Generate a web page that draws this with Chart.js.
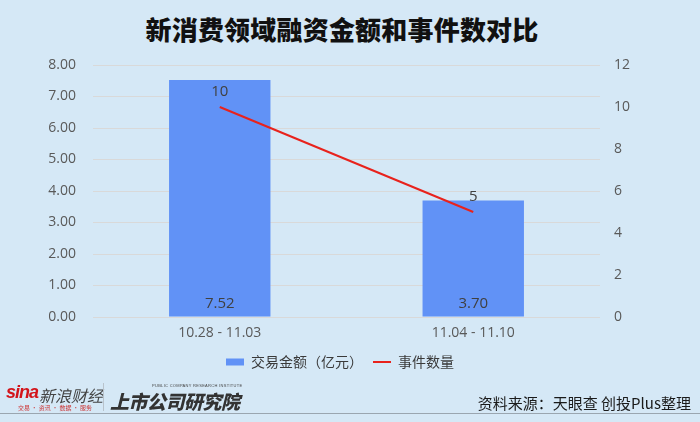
<!DOCTYPE html>
<html>
<head>
<meta charset="utf-8">
<script src="https://cdn.jsdelivr.net/npm/chart.js@4"></script>
<style>
  html, body { margin: 0; padding: 0; }
  body { width: 700px; height: 422px; background: #d5e8f6; position: relative; overflow: hidden; font-family: "Noto Sans CJK SC", sans-serif; }
  #chart { position: absolute; left: 0; top: 0; }
  .title { position: absolute; left: 0; width: 684px; top: 10px; text-align: center; font-size: 26px; font-weight: 900; color: #111; letter-spacing: 0.2px; }
  .source { position: absolute; right: 9px; top: 392px; font-size: 15px; color: #1a1a1a; }
  .divider { position: absolute; left: 0; top: 413px; width: 700px; height: 1px; background: #9aa6b0; }
  .sina { position: absolute; left: 6px; top: 382px; font-family: "Liberation Sans", sans-serif; font-style: italic; font-weight: bold; font-size: 18px; color: #d3141b; letter-spacing: -1px; }
  .sina-cn { position: absolute; left: 39px; top: 383px; font-size: 16px; color: #444; font-style: italic; }
  .sina-sub { position: absolute; left: 18px; top: 403px; font-size: 6px; color: #c33; }
  .vline { position: absolute; left: 103px; top: 383px; width: 1px; height: 28px; background: #b9c3cc; }
  .inst { position: absolute; left: 110px; top: 387px; font-size: 19px; font-weight: 900; font-style: italic; color: #333; letter-spacing: -0.5px; }
  .inst-en { position: absolute; left: 152px; top: 383px; font-family: "Liberation Sans", sans-serif; font-size: 4px; color: #444; letter-spacing: 0.3px; }
</style>
</head>
<body>
<div class="title">新消费领域融资金额和事件数对比</div>
<canvas id="chart" width="700" height="422"></canvas>
<div class="sina">sina</div>
<div class="sina-cn">新浪财经</div>
<div class="sina-sub">交易 · 资讯 · 数据 · 服务</div>
<div class="vline"></div>
<div class="inst-en">PUBLIC COMPANY RESEARCH INSTITUTE</div>
<div class="inst">上市公司研究院</div>
<div class="source">资料来源：天眼查 创投Plus整理</div>
<div class="divider"></div>
<script>
const categories = ['10.28 - 11.03', '11.04 - 11.10'];
const amounts = [7.52, 3.70];      // 交易金额（亿元）
const eventCounts = [10, 5];       // 事件数量
const leftMax = 8;
const rightMax = 12;

const tickColor = '#595959';
const labelColor = '#404040';

// value labels: amounts near the bar bottom, counts above the line points
const valueLabels = {
    id: 'valueLabels',
    afterDatasetsDraw(chart) {
        const ctx = chart.ctx;
        ctx.save();
        ctx.fillStyle = labelColor;
        ctx.font = '15px "Open Sans", sans-serif';
        ctx.textAlign = 'center';
        ctx.textBaseline = 'middle';
        const yScale = chart.scales.y;
        chart.getDatasetMeta(0).data.forEach((el, i) => {
            ctx.fillText(amounts[i].toFixed(2), el.x, yScale.getPixelForValue(0) - 13);
        });
        chart.getDatasetMeta(1).data.forEach((el, i) => {
            ctx.fillText(String(eventCounts[i]), el.x, el.y - 15);
        });
        ctx.restore();
    }
};

const tickFont = { family: '"Open Sans", sans-serif', size: 14 };

new Chart(document.getElementById('chart'), {
    data: {
        labels: categories,
        datasets: [
            {
                type: 'bar',
                label: '交易金额（亿元）',
                data: amounts,
                backgroundColor: '#6192f6',
                yAxisID: 'y',
                barPercentage: 0.4,
                categoryPercentage: 1,
                order: 2
            },
            {
                type: 'line',
                label: '事件数量',
                data: eventCounts,
                borderColor: '#e8221c',
                borderWidth: 2,
                pointRadius: 0,
                tension: 0,
                yAxisID: 'y1',
                order: 1
            }
        ]
    },
    options: {
        responsive: false,
        animation: false,
        layout: { padding: { top: 65, bottom: 43, left: 0, right: 20 } },
        scales: {
            x: {
                grid: { display: false },
                border: { display: false },
                ticks: { color: tickColor, font: tickFont, padding: 0 },
                afterFit: (s) => { s.height = 28; }
            },
            y: {
                position: 'left',
                min: 0,
                max: leftMax,
                ticks: { stepSize: 1, color: tickColor, padding: 17, font: tickFont, callback: (v) => v.toFixed(2) },
                grid: { color: '#d9d9d9', drawTicks: false },
                border: { display: false },
                afterFit: (s) => { s.width = 93; }
            },
            y1: {
                position: 'right',
                min: 0,
                max: rightMax,
                ticks: { stepSize: 2, color: tickColor, padding: 14, font: tickFont },
                grid: { display: false, drawTicks: false },
                border: { display: false },
                afterFit: (s) => { s.width = 80; }
            }
        },
        plugins: {
            title: { display: false },
            tooltip: { enabled: false },
            legend: {
                position: 'bottom',
                labels: {
                    usePointStyle: true,
                    pointStyleWidth: 18,
                    boxHeight: 7,
                    padding: 10,
                    color: '#3a3a3a',
                    font: { family: '"Noto Sans CJK SC", sans-serif', size: 14 },
                    generateLabels: (chart) => chart.data.datasets.map((ds, i) => ({
                        text: ds.label,
                        fillStyle: ds.type === 'bar' ? ds.backgroundColor : ds.borderColor,
                        strokeStyle: ds.type === 'bar' ? ds.backgroundColor : ds.borderColor,
                        lineWidth: ds.type === 'bar' ? 0 : 2,
                        pointStyle: ds.type === 'bar' ? 'rect' : 'line',
                        fontColor: '#3a3a3a',
                        datasetIndex: i
                    }))
                }
            }
        }
    },
    plugins: [valueLabels]
});
</script>
</body>
</html>
